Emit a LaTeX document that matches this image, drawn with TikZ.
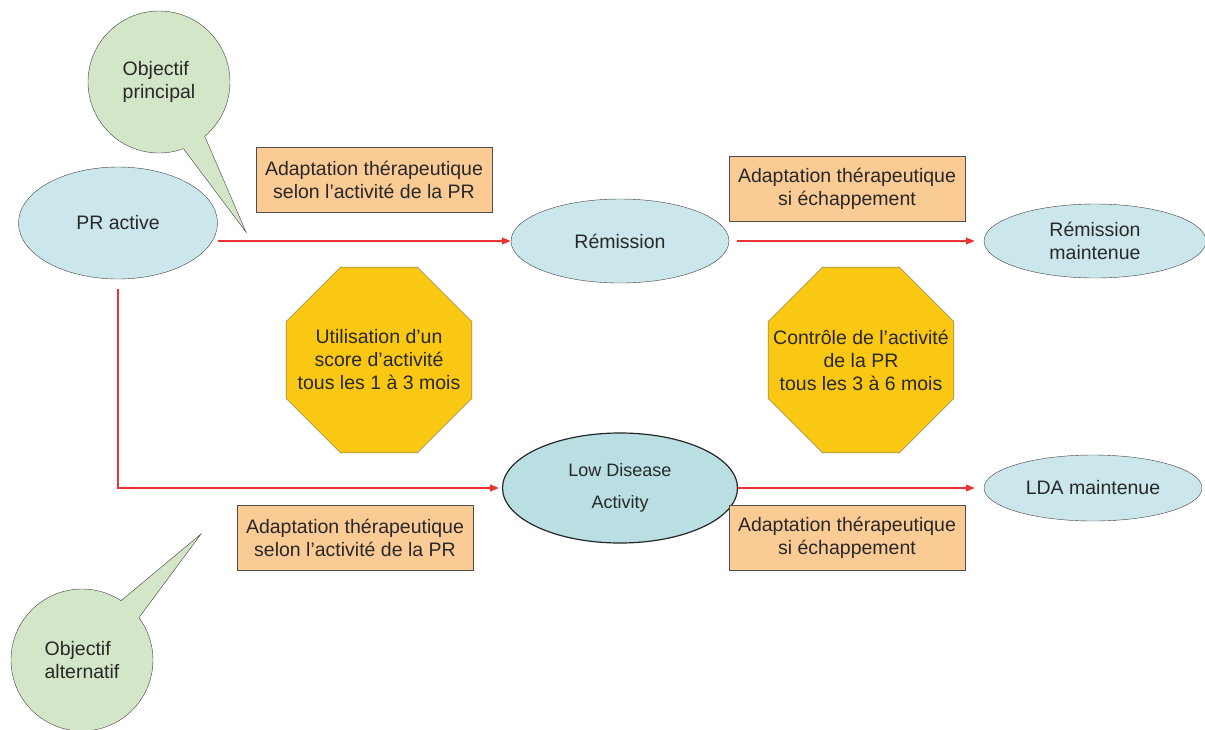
\documentclass[tikz,border=0pt]{standalone}
\usepackage{fontspec}
\setmainfont{Liberation Sans}
\usetikzlibrary{shapes.geometric,shapes.callouts,arrows.meta}

\definecolor{ellblue}{RGB}{204,231,235}
\definecolor{ldablue}{RGB}{186,223,227}
\definecolor{callgreen}{RGB}{211,230,200}
\definecolor{boxorange}{RGB}{251,203,150}
\definecolor{octyellow}{RGB}{250,200,18}
\definecolor{arrowred}{RGB}{236,52,52}
\definecolor{txtgray}{RGB}{40,40,40}

\tikzset{
  etat/.style={ellipse, draw=black!75, fill=ellblue, inner sep=0pt, align=center, text=txtgray},
  adapt/.style={rectangle, draw=black!70, fill=boxorange, minimum width=236, minimum height=65, inner sep=0pt, align=center, text=txtgray},
  stopsign/.style={regular polygon, regular polygon sides=8, draw=black!60, fill=octyellow, minimum size=201, inner sep=0pt},
  stoptext/.style={align=center, text=txtgray, inner sep=0pt},
  bulle/.style={ellipse callout, draw=black!75, fill=callgreen, minimum width=142, minimum height=142, inner sep=0pt, align=left, callout pointer arc=20, text=txtgray},
  fleche/.style={draw=arrowred, line width=1.3pt, -{Triangle[length=9pt,width=7pt]}}
}

\begin{document}
\begin{tikzpicture}[x=1pt, y=-1pt, font=\fontsize{19.5}{23}\selectfont]

      \useasboundingbox (0,0) rectangle (1205,729);

      % Callouts
      \coordinate (pointeP) at (246,232);
      \coordinate (pointeA) at (201,534);
      \node[bulle, callout absolute pointer={(pointeP)}] (objp) at (159,82) {Objectif\\principal};
      \node[bulle, callout absolute pointer={(pointeA)}] (obja) at (82,660) {Objectif\\alternatif};

      % States
      \node[etat, minimum width=199, minimum height=112] (pr) at (118,223) {PR active};
      \node[etat, minimum width=218, minimum height=84] (rem) at (620,241) {Rémission};
      \node[etat, minimum width=222, minimum height=74] (remm) at (1095,241) {Rémission\\maintenue};
      \node[etat, fill=ldablue, draw=black!85, line width=1.2pt, minimum width=235, minimum height=110,
            font=\fontsize{18}{32}\selectfont] (lda) at (620,488) {Low Disease\\Activity};
      \node[etat, minimum width=218, minimum height=66] (ldam) at (1093,488) {LDA maintenue};

      % Therapeutic adaptation
      \node[adapt] (adpr) at (374,180) {Adaptation thérapeutique\\selon l’activité de la PR};
      \node[adapt] (adrem) at (847,189) {Adaptation thérapeutique\\si échappement};
      \node[adapt] (adlda) at (355,538) {Adaptation thérapeutique\\selon l’activité de la PR};
      \node[adapt] (adldam) at (847,538) {Adaptation thérapeutique\\si échappement};

      % Monitoring
      \node[stopsign] (score) at (379,360) {};
      \node[stoptext] (scoretxt) at (score) {Utilisation d’un\\score d’activité\\tous les 1 à 3 mois};
      \node[stopsign] (ctrl) at (861,360) {};
      \node[stoptext] (ctrltxt) at (ctrl) {Contrôle de l’activité\\de la PR\\tous les 3 à 6 mois};

      % Transitions
      \draw[fleche] (pr.east |- rem.west) -- (rem.west);
      \draw[fleche, shorten <=8pt, shorten >=9pt] (rem.east) -- (remm.west);
      \draw[fleche, shorten <=10pt, shorten >=3pt] (pr.south) |- (lda.west);
      \draw[fleche, shorten >=9pt] (lda.east) -- (ldam.west);

\end{tikzpicture}
\end{document}
